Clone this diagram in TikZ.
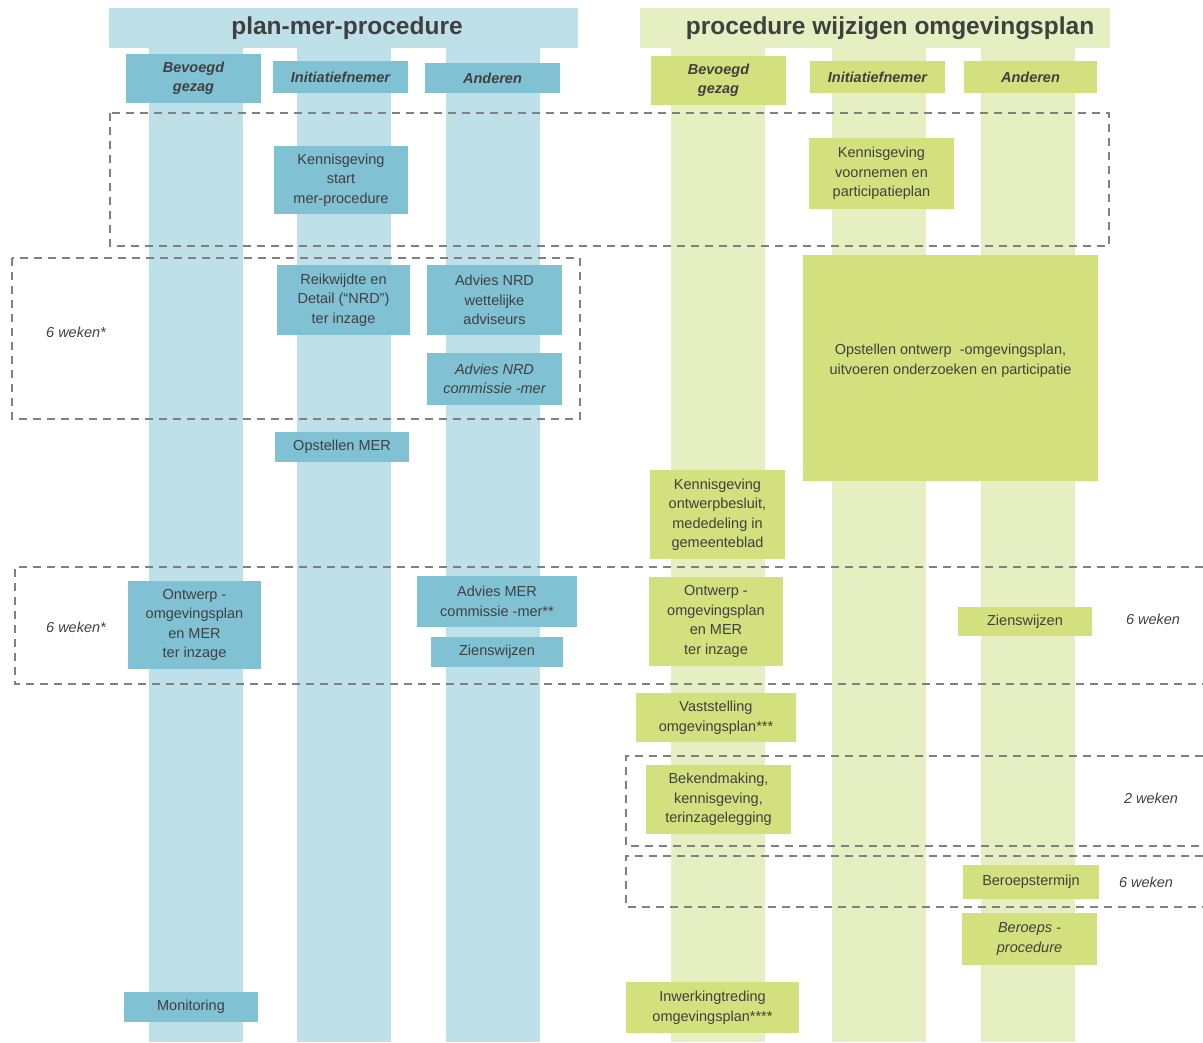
\documentclass[tikz,border=0pt]{standalone}
\usepackage{fontspec}
\setmainfont{Liberation Sans}
\definecolor{lichtblauw}{HTML}{BEE0E8}
\definecolor{blauw}{HTML}{80C1D4}
\definecolor{lichtgroen}{HTML}{E5EFC1}
\definecolor{groen}{HTML}{D3E07E}
\definecolor{tekst}{HTML}{404040}
\definecolor{streepgrijs}{HTML}{808080}
\begin{document}
\begin{tikzpicture}[x=1pt, y=-1pt,
  blok/.style={inner sep=0pt, align=center, text=tekst, font=\fontsize{14.5}{19.5}\selectfont},
  maat/.style 2 args={minimum width=#1pt, minimum height=#2pt},
  kop/.style={blok, font=\fontsize{14.5}{19}\selectfont\bfseries\itshape},
  streep/.style={streepgrijs, line width=2pt, dash pattern=on 8pt off 6pt},
  weken/.style={text=tekst, font=\fontsize{14.5}{19}\selectfont\itshape}]
\useasboundingbox (0,0) rectangle (1203,1043);

% kolommen
\fill[lichtblauw] (109,8) rectangle (578,48);
\fill[lichtblauw] (149,48) rectangle (243,1042);
\fill[lichtblauw] (297,48) rectangle (391,1042);
\fill[lichtblauw] (446,48) rectangle (540,1042);
\fill[lichtgroen] (640,8) rectangle (1110,48);
\fill[lichtgroen] (671,48) rectangle (765,1042);
\fill[lichtgroen] (832,48) rectangle (926,1042);
\fill[lichtgroen] (981,48) rectangle (1075,1042);

\node[text=tekst, font=\fontsize{24.5}{28}\selectfont\bfseries] (t1) at (347,28) {plan-mer-procedure};
\node[text=tekst, font=\fontsize{24.5}{28}\selectfont\bfseries] (t2) at (890,28) {procedure wijzigen omgevingsplan};

% termijnen
\draw[streep] (110,113) rectangle (1109,246);
\draw[streep] (12,258) rectangle (580,419);
\draw[streep] (1203,567) -- (15,567) -- (15,684) -- (1203,684);
\draw[streep] (1203,756) -- (626,756) -- (626,846) -- (1203,846);
\draw[streep] (1203,856) -- (626,856) -- (626,907) -- (1203,907);

\node[weken] (w1) at (76,332) {6 weken*};
\node[weken] (w2) at (76,627) {6 weken*};
\node[weken] (w3) at (1153,619) {6 weken};
\node[weken] (w4) at (1151,798) {2 weken};
\node[weken] (w5) at (1146,882) {6 weken};

% plan-mer-procedure
\node[kop, fill=blauw, maat={135}{49}] (bg1) at (193.5,78.5) {Bevoegd\\gezag};
\node[kop, fill=blauw, maat={135}{32}] (in1) at (340.5,77) {Initiatiefnemer};
\node[kop, fill=blauw, maat={135}{30}] (an1) at (492.5,78) {Anderen};

\node[blok, fill=blauw, maat={134}{68}] (kstart) at (341,180) {Kennisgeving\\start\\mer-procedure};
\node[blok, fill=blauw, maat={133}{70}] (nrd) at (343.5,300) {Reikwijdte en\\Detail (“NRD”)\\ter inzage};
\node[blok, fill=blauw, maat={135}{70}] (advwet) at (494.5,300) {Advies NRD\\wettelijke\\adviseurs};
\node[blok, fill=blauw, maat={135}{52}, font=\fontsize{14.5}{19.5}\selectfont\itshape] (advcie) at (494.5,379) {Advies NRD\\commissie -mer};
\node[blok, fill=blauw, maat={134}{30}] (mer) at (342,447) {Opstellen MER};
\node[blok, fill=blauw, maat={133}{88}] (ontw1) at (194.5,625) {Ontwerp -\\omgevingsplan\\en MER\\ter inzage};
\node[blok, fill=blauw, maat={160}{51}] (advmer) at (497,601.5) {Advies MER\\commissie -mer**};
\node[blok, fill=blauw, maat={132}{30}] (zw1) at (497,652) {Zienswijzen};
\node[blok, fill=blauw, maat={134}{30}] (mon) at (191,1007) {Monitoring};

% procedure wijzigen omgevingsplan
\node[kop, fill=groen, maat={135}{49}] (bg2) at (718.5,80.5) {Bevoegd\\gezag};
\node[kop, fill=groen, maat={135}{32}] (in2) at (877.5,77) {Initiatiefnemer};
\node[kop, fill=groen, maat={133}{32}] (an2) at (1030.5,77) {Anderen};

\node[blok, fill=groen, maat={145}{71}] (kvoor) at (881.5,173.5) {Kennisgeving\\voornemen en\\participatieplan};
\node[blok, fill=groen, maat={295}{226}] (opst) at (950.5,368) {Opstellen ontwerp \ -omgevingsplan,\\uitvoeren onderzoeken en participatie\\[-1.5pt]};
\node[blok, fill=groen, maat={135}{89}] (kontw) at (717.5,514.5) {Kennisgeving\\ontwerpbesluit,\\mededeling in\\gemeenteblad};
\node[blok, fill=groen, maat={134}{89}] (ontw2) at (716,621.5) {Ontwerp -\\omgevingsplan\\en MER\\ter inzage};
\node[blok, fill=groen, maat={134}{29}] (zw2) at (1025,621.5) {Zienswijzen};
\node[blok, fill=groen, maat={160}{49}] (vast) at (716,717.5) {Vaststelling\\omgevingsplan***};
\node[blok, fill=groen, maat={145}{69}] (bek) at (718.5,799.5) {Bekendmaking,\\kennisgeving,\\terinzagelegging};
\node[blok, fill=groen, maat={136}{34}] (bert) at (1031,882) {Beroepstermijn};
\node[blok, fill=groen, maat={135}{52}, font=\fontsize{14.5}{19.5}\selectfont\itshape] (berp) at (1029.5,939) {Beroeps -\\procedure};
\node[blok, fill=groen, maat={173}{51}] (inw) at (712.5,1007.5) {Inwerkingtreding\\omgevingsplan****};

\end{tikzpicture}
\end{document}
